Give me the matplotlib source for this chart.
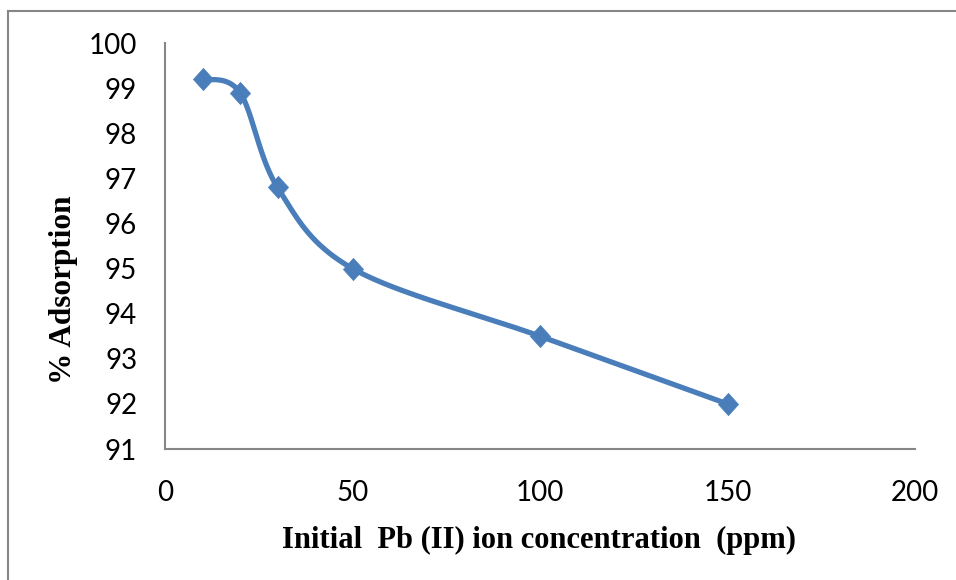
import matplotlib.pyplot as plt
import numpy as np
from matplotlib.lines import Line2D

# values
conc_ppm = [10, 20, 30, 50, 100, 150]
adsorption_pct = [99.2, 98.9, 96.8, 95.0, 93.5, 92.0]

x_ticks = [0, 50, 100, 150, 200]
y_ticks = [91, 92, 93, 94, 95, 96, 97, 98, 99, 100]

LINE_BLUE = "#4A7EBB"
GREY = "#868686"


def smooth_curve(ax, xs, ys, steps=40):
    """Excel-style smoothed line: cubic Bezier segments built in display space."""
    pts = ax.transData.transform(np.column_stack([xs, ys]))
    padded = np.vstack([pts[0], pts, pts[-1]])
    out = []
    for i in range(len(pts) - 1):
        p0, p1 = padded[i + 1], padded[i + 2]
        c0 = p0 + (padded[i + 2] - padded[i]) / 6.0
        c1 = p1 - (padded[i + 3] - padded[i + 1]) / 6.0
        t = np.linspace(0, 1, steps)[:, None]
        seg = ((1 - t) ** 3) * p0 + 3 * ((1 - t) ** 2) * t * c0 \
            + 3 * (1 - t) * t ** 2 * c1 + t ** 3 * p1
        out.append(seg if i == 0 else seg[1:])
    curve = np.vstack(out)
    data = ax.transData.inverted().transform(curve)
    return data[:, 0], data[:, 1]


fig = plt.figure(figsize=(9.56, 5.8), dpi=100)
ax = fig.add_axes([165 / 956, 1 - 449 / 580, 750 / 956, 406 / 580])

ax.set_xlim(0, 200)
ax.set_ylim(91, 100)
ax.set_xticks(x_ticks)
ax.set_yticks(y_ticks)

sx, sy = smooth_curve(ax, conc_ppm, adsorption_pct)
ax.plot(sx, sy, color=LINE_BLUE, linewidth=3.8, solid_capstyle="round", zorder=2)
diamond = [(0, 1.1), (1, 0), (0, -1.1), (-1, 0), (0, 1.1)]
ax.plot(conc_ppm, adsorption_pct, linestyle="none", marker=diamond, markersize=16,
        color=LINE_BLUE, markeredgecolor=LINE_BLUE, markeredgewidth=0.5, zorder=3)

for side in ["top", "right"]:
    ax.spines[side].set_visible(False)
for side in ["left", "bottom"]:
    ax.spines[side].set_color(GREY)
    ax.spines[side].set_linewidth(1.5)

ax.tick_params(axis="both", length=0, labelsize=20)
ax.tick_params(axis="x", pad=22)
ax.tick_params(axis="y", pad=20)
for lbl in ax.get_xticklabels() + ax.get_yticklabels():
    lbl.set_fontfamily("Lato")

fig.text(539 / 956, 1 - 540 / 580, "Initial  Pb (II) ion concentration  (ppm)",
         family="Liberation Serif", weight="bold", fontsize=22,
         ha="center", va="center")
fig.text(63 / 956, 1 - 290 / 580, "% Adsorption", family="Liberation Serif",
         weight="bold", fontsize=22.5, rotation=90, ha="center", va="center")

# frame edges of the exported chart image (only top and left survive the crop)
fig.add_artist(Line2D([8 / 956, 1], [1 - 11 / 580] * 2, transform=fig.transFigure,
                      color=GREY, linewidth=1.5))
fig.add_artist(Line2D([8 / 956] * 2, [0, 1 - 11 / 580], transform=fig.transFigure,
                      color=GREY, linewidth=1.5))

fig.savefig("out.png", dpi=100)
